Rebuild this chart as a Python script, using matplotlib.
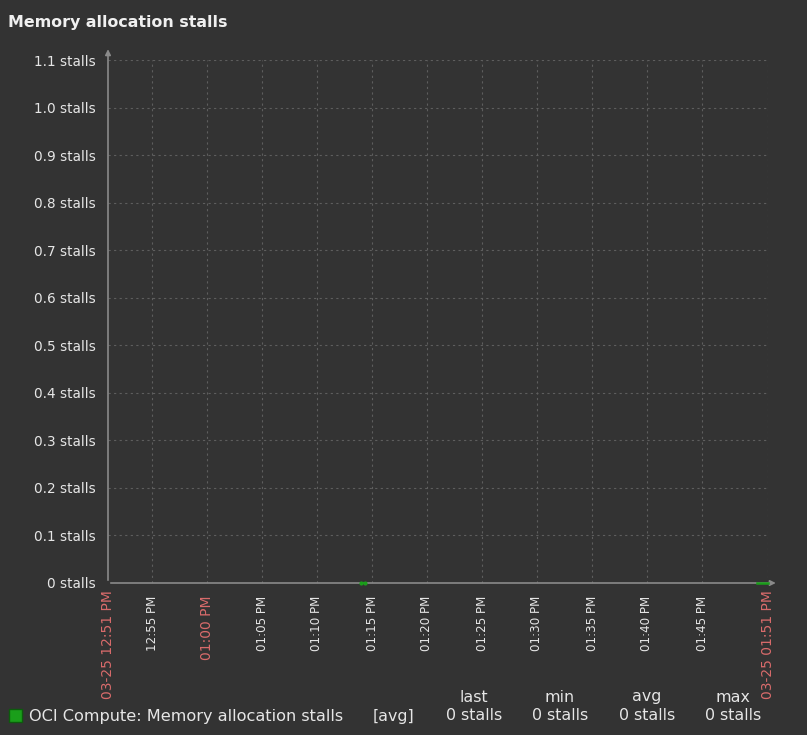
import matplotlib.pyplot as plt
import pandas as pd

title = 'Memory allocation stalls'
series_name = 'OCI Compute: Memory allocation stalls'

# time window shown
start = pd.Timestamp('2024-03-25 12:51')
end = pd.Timestamp('2024-03-25 13:51')

# the few samples that were collected (all zero)
seg1_times = pd.to_datetime(['2024-03-25 13:14:00', '2024-03-25 13:14:20'])
seg1_values = [0, 0]
seg2_times = pd.to_datetime(['2024-03-25 13:50:00', '2024-03-25 13:51:00'])
seg2_values = [0, 0]

y_ticks = [0, 0.1, 0.2, 0.3, 0.4, 0.5, 0.6, 0.7, 0.8, 0.9, 1.0, 1.1]
y_labels = ['0 stalls', '0.1 stalls', '0.2 stalls', '0.3 stalls', '0.4 stalls', '0.5 stalls',
            '0.6 stalls', '0.7 stalls', '0.8 stalls', '0.9 stalls', '1.0 stalls', '1.1 stalls']
x_ticks = pd.to_datetime(['2024-03-25 12:55', '2024-03-25 13:00', '2024-03-25 13:05',
                          '2024-03-25 13:10', '2024-03-25 13:15', '2024-03-25 13:20',
                          '2024-03-25 13:25', '2024-03-25 13:30', '2024-03-25 13:35',
                          '2024-03-25 13:40', '2024-03-25 13:45'])
x_labels = ['12:55 PM', '01:00 PM', '01:05 PM', '01:10 PM', '01:15 PM', '01:20 PM',
            '01:25 PM', '01:30 PM', '01:35 PM', '01:40 PM', '01:45 PM']
stat_names = ['last', 'min', 'avg', 'max']
stat_values = ['0 stalls', '0 stalls', '0 stalls', '0 stalls']

bg = '#333333'
grid_c = '#5e5e5e'
text_c = '#e6e6e6'
red_c = '#d96b6b'
green = '#1a9e1a'

fig = plt.figure(figsize=(8.07, 7.35), dpi=100, facecolor=bg)
ax = fig.add_axes([108 / 807, 1 - 583 / 735, 660 / 807, 523 / 735])
ax.set_facecolor(bg)

ax.plot(seg1_times, seg1_values, color=green, lw=1.5, marker='o', ms=2, clip_on=False, zorder=5)

ax.set_xlim(start, end)
ax.set_ylim(0, 1.1)

for s in ax.spines.values():
    s.set_visible(False)

ax.set_yticks(y_ticks)
ax.set_yticklabels(y_labels, color=text_c, fontsize=9.8)
ax.set_xticks(x_ticks)
ax.set_xticklabels(x_labels, rotation=90, color=text_c, fontsize=8.6, va='top')
ax.tick_params(axis='y', length=0, pad=9)
ax.tick_params(axis='x', length=0, pad=9)

# red label for the full hour
for lbl in ax.get_xticklabels():
    if lbl.get_text() == '01:00 PM':
        lbl.set_color(red_c)
        lbl.set_fontsize(10)

ax.grid(True, color=grid_c, linestyle=(0, (2, 3)), lw=0.8)
ax.axvline(end, color=grid_c, linestyle=(0, (2, 3)), lw=0.8)

# axes with arrows
ax.annotate('', xy=(0, 1.026), xytext=(0, 0), xycoords='axes fraction',
            arrowprops=dict(arrowstyle='-|>', color='#8a8a8a', lw=1.2, mutation_scale=8))
ax.annotate('', xy=(1.016, 0), xytext=(0, 0), xycoords='axes fraction',
            arrowprops=dict(arrowstyle='-|>', color='#8a8a8a', lw=1.2, mutation_scale=8))
ax.plot(seg2_times, seg2_values, color=green, lw=1.8, clip_on=False, zorder=5)

# range ends
ax.text(start, -0.016, '03-25 12:51 PM', rotation=90, color=red_c, fontsize=10,
        ha='center', va='top')
ax.text(end, -0.016, '03-25 01:51 PM', rotation=90, color=red_c, fontsize=10,
        ha='center', va='top')

fig.text(8 / 807, 1 - 22 / 735, title, color='#f0f0f0', fontsize=11.4, fontweight='bold',
         va='center', ha='left')

# legend row
fig.patches.append(plt.Rectangle((9 / 807, 1 - 722 / 735), 13 / 807, 13 / 735,
                                 transform=fig.transFigure, facecolor=green, edgecolor='#0c5c0c'))
fig.text(29 / 807, 1 - 716 / 735, series_name, color=text_c, fontsize=11.6, va='center')
fig.text(394 / 807, 1 - 716 / 735, '[avg]', color=text_c, fontsize=11.4, va='center', ha='center')
stat_x = [474, 560, 647, 733]
for x, n, v in zip(stat_x, stat_names, stat_values):
    fig.text(x / 807, 1 - 697 / 735, n, color=text_c, fontsize=11.4, va='center', ha='center')
    fig.text(x / 807, 1 - 716 / 735, v, color=text_c, fontsize=11.4, va='center', ha='center')

fig.savefig('out.png', dpi=100, facecolor=bg)
